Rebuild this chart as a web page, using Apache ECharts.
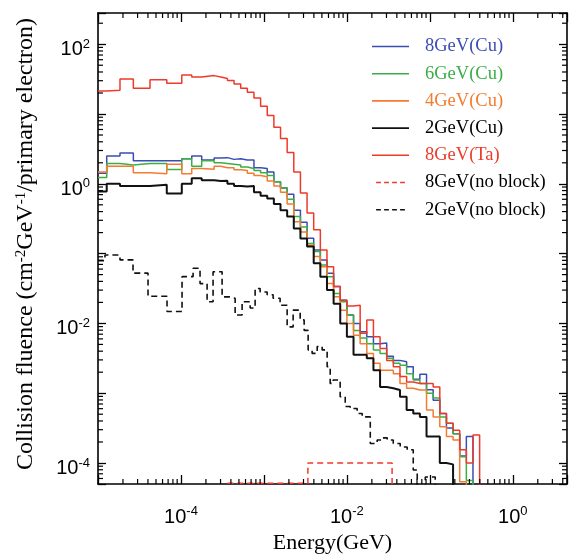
<!DOCTYPE html>
<html><head><meta charset="utf-8">
<script src="https://cdn.jsdelivr.net/npm/echarts@6/dist/echarts.min.js"></script>
<style>html,body{margin:0;padding:0;background:#fff}#chart{width:569px;height:554px}</style>
</head><body><div id="chart"></div>
<script>
// ---- Data ----
// Histogram bin edges, log10(Energy / GeV), for the shielded spectra
const blockEdgesLog10 = [-5.0, -4.895, -4.735, -4.574, -4.373, -4.171, -3.99, -3.87, -3.75,
  -3.60, -3.52, -3.44, -3.36, -3.28, -3.20, -3.12, -3.04, -2.96, -2.88, -2.80, -2.72, -2.64, -2.56,
  -2.48, -2.40, -2.32, -2.24, -2.16, -2.08, -2.00, -1.92, -1.84, -1.76, -1.68, -1.60, -1.52, -1.44,
  -1.36, -1.28, -1.20, -1.12, -1.04, -0.96, -0.88, -0.80, -0.72, -0.64, -0.56, -0.48, -0.40];
// log10(collision fluence) per bin (-6 = below the plotted range)
const cu8Log10 = [0.15, 0.40, 0.44, 0.33, 0.33, 0.33, 0.36, 0.40, 0.34,
  0.37, 0.375, 0.35, 0.36, 0.34, 0.34, 0.23, 0.22, 0.17, 0.03, -0.06, -0.15, -0.38, -0.55, -0.78,
  -0.95, -1.09, -1.28, -1.47, -1.67, -1.88, -2.0, -2.12, -2.19, -2.29, -2.28, -2.47, -2.53, -2.55,
  -2.62, -2.80, -2.73, -2.95, -3.10, -3.29, -3.50, -3.58, -3.90, -3.62, -6];
const cu6Log10 = [0.09, 0.29, 0.27, 0.29, 0.29, 0.205, 0.36, 0.25, 0.33,
  0.30, 0.29, 0.28, 0.27, 0.24, 0.22, 0.19, 0.16, 0.12, 0.03, -0.06, -0.22, -0.47, -0.62, -0.855,
  -0.97, -1.165, -1.33, -1.57, -1.69, -1.88, -2.1, -2.21, -2.29, -2.38, -2.43, -2.50, -2.57, -2.6,
  -2.72, -2.81, -2.86, -3.0, -3.07, -3.34, -3.43, -3.58, -3.91, -4.25, -6];
const cu4Log10 = [0.17, 0.25, 0.25, 0.16, 0.145, 0.28, 0.145, 0.22, 0.21,
  0.25, 0.23, 0.23, 0.20, 0.19, 0.15, 0.12, 0.10, 0.04, -0.03, -0.12, -0.29, -0.545, -0.69, -0.88,
  -1.04, -1.19, -1.43, -1.62, -1.81, -2.0, -2.17, -2.29, -2.43, -2.57, -2.67, -2.67, -2.72, -2.86,
  -2.93, -2.955, -2.955, -3.24, -3.34, -3.48, -3.62, -3.67, -4.27, -6, -6];
const cu2Log10 = [-0.11, 0.0, -0.03, -0.03, -0.015, -0.14, 0.0, 0.08, 0.05,
  0.04, 0.043, 0.0, -0.03, -0.04, -0.03, -0.12, -0.17, -0.21, -0.29, -0.38, -0.47, -0.64, -0.785, -0.9,
  -1.14, -1.33, -1.52, -1.72, -2.0, -2.19, -2.45, -2.45, -2.50, -2.67, -2.91, -2.93, -2.955, -3.05,
  -3.24, -3.29, -3.34, -3.62, -3.62, -4.0, -4.02, -6, -6, -6, -6];
const ta8Log10 = [1.33, 1.34, 1.50, 1.37, 1.49, 1.44, 1.56, 1.53, 1.55,
  1.53, 1.51, 1.48, 1.43, 1.37, 1.31, 1.23, 1.11, 0.98, 0.81, 0.65, 0.45, 0.17, -0.13, -0.42,
  -0.66, -0.95, -1.19, -1.47, -1.67, -1.75, -1.74, -2.14, -1.95, -2.19, -2.36, -2.53, -2.62, -2.76,
  -2.84, -2.86, -2.86, -2.86, -2.91, -3.29, -3.43, -3.53, -3.81, -4.00, -3.60];
// No-block spectra have their own binning
const nb8EdgesLog10 = [-3.44, -2.47, -1.455];
const nb8Log10 = [-4.29, -4.0];
const nb2EdgesLog10 = [-5.0, -4.916, -4.735, -4.578, -4.397, -4.168, -3.987, -3.854, -3.770, -3.685,
  -3.613, -3.504, -3.408, -3.347, -3.263, -3.166, -3.106, -3.046, -2.961, -2.889, -2.805, -2.720,
  -2.648, -2.563, -2.515, -2.467, -2.419, -2.358, -2.298, -2.238, -2.201, -2.165, -2.081, -2.020,
  -1.960, -1.876, -1.815, -1.718, -1.635, -1.574, -1.514, -1.441, -1.357, -1.273, -1.200, -1.152,
  -1.055, -0.935];
const nb2Log10 = [-1.10, -1.02, -1.09, -1.28, -1.61, -1.83, -1.33, -1.21, -1.43, -1.69, -1.26, -1.62,
  -1.64, -1.88, -1.69, -1.78, -1.50, -1.55, -1.59, -1.64, -1.74, -2.05, -1.81, -1.95, -2.10, -2.38,
  -2.43, -2.33, -2.38, -2.62, -2.86, -2.81, -3.05, -3.19, -3.22, -3.29, -3.34, -3.72, -3.67, -3.64,
  -3.67, -3.72, -3.77, -3.81, -4.1, -4.5, -4.2];

const seriesNames = ['8GeV(Cu)', '6GeV(Cu)', '4GeV(Cu)', '2GeV(Cu)', '8GeV(Ta)', '8GeV(no block)', '2GeV(no block)'];
const xMin = 1e-5, xMax = 4.5, yMin = 5e-5, yMax = 280;

// ---- Build step-histogram points ----
function histPoints(edges, vals) {
  const pts = vals.map((v, i) => [Math.pow(10, edges[i]), Math.pow(10, v)]);
  pts.push([Math.pow(10, edges[edges.length - 1]), 1e-8]);
  return pts;
}

const colors = {blue: '#3b4db3', green: '#3cae46', orange: '#f47b30', black: '#111111', red: '#ee3a2a'};

function lineSeries(name, data, color, width, dashed) {
  return {
    name, type: 'line', step: 'end', data, symbol: 'none', clip: true,
    xAxisIndex: 0, yAxisIndex: 0,
    lineStyle: {color, width, type: dashed ? [6, 4] : 'solid'},
    itemStyle: {color}, z: 3
  };
}

// minor tick positions (axis decoration)
const minorTicks = [];
for (let e = -5; e <= 0; e++) for (let k = 2; k <= 9; k++) { const v = k * Math.pow(10, e); if (v < xMax) minorTicks.push([v, 1, 0]); }
for (let e = -5; e <= 2; e++) for (let k = 2; k <= 9; k++) { const v = k * Math.pow(10, e); if (v > yMin && v < yMax) minorTicks.push([1, v, 1]); }

function supLabel(v) {
  const lg = Math.log10(v);
  const e = Math.round(lg);
  if (Math.abs(lg - e) > 1e-6 || e % 2 !== 0) return '';
  return '{b|10}{s|' + (e < 0 ? '-' + (-e) : e) + '}';
}
const labelRich = {
  b: {fontFamily: 'Liberation Sans', fontSize: 20, color: '#000', lineHeight: 20, verticalAlign: 'bottom'},
  s: {fontFamily: 'Liberation Sans', fontSize: 13, color: '#000', lineHeight: 13, verticalAlign: 'bottom', padding: [0, 0, 9, 0]}
};
const axisLineStyle = {show: true, lineStyle: {color: '#000', width: 1.6}};

function xAx(pos, showLabel) {
  return {
    type: 'log', logBase: 10, min: xMin, max: xMax, position: pos,
    axisLine: axisLineStyle,
    axisTick: {show: true, inside: true, length: 9, interval: 0, lineStyle: {color: '#000', width: 1.3}},
    axisLabel: {show: showLabel, interval: 0, margin: 23, formatter: supLabel, rich: labelRich},
    splitLine: {show: false},
    name: showLabel ? 'Energy(GeV)' : '', nameLocation: 'middle', nameGap: 47,
    nameTextStyle: {fontFamily: 'Liberation Serif', fontSize: 22, color: '#000'}
  };
}
function yAx(pos, showLabel) {
  return {
    type: 'log', logBase: 10, min: yMin, max: yMax, position: pos,
    axisLine: axisLineStyle,
    axisTick: {show: true, inside: true, length: 8, interval: 0, lineStyle: {color: '#000', width: 1.3}},
    axisLabel: {show: showLabel, interval: 0, margin: 8, formatter: supLabel, rich: labelRich, padding: [11, 0, 0, 0]},
    splitLine: {show: false},
    name: showLabel ? '{a|Collision fluence (cm}{s|-2}{a|GeV}{s|-1}{a|/primary electron)}' : '',
    nameLocation: 'middle', nameGap: 60, nameRotate: 90,
    nameTextStyle: {
      fontFamily: 'Liberation Serif', fontSize: 24, color: '#000', padding: [0, 0, 0, 9],
      rich: {
        a: {fontFamily: 'Liberation Serif', fontSize: 24, color: '#000', lineHeight: 24, verticalAlign: 'bottom'},
        s: {fontFamily: 'Liberation Serif', fontSize: 15, color: '#000', lineHeight: 15, verticalAlign: 'bottom', padding: [0, 0, 9, 0]}
      }
    }
  };
}

const dashIcon = 'path://M0,0h6v2h-6z M10,0h6v2h-6z M20,0h6v2h-6z M30,0h6v2h-6z';

const chart = echarts.init(document.getElementById('chart'), null, {renderer: 'canvas'});
chart.setOption({
  animation: false,
  backgroundColor: '#fff',
  grid: {left: 98, right: 2, top: 13, bottom: 70, containLabel: false, outerBoundsMode: 'none'},
  xAxis: [xAx('bottom', true), xAx('top', false)],
  yAxis: [yAx('left', true), yAx('right', false)],
  legend: {
    orient: 'vertical', left: 367, top: 32, itemWidth: 37, itemHeight: 1.6, itemGap: 8.2,
    textStyle: {fontFamily: 'Liberation Serif', fontSize: 18.5, padding: [0, 0, 0, 11]},
    data: [
      {name: seriesNames[0], icon: 'rect', textStyle: {color: colors.blue}},
      {name: seriesNames[1], icon: 'rect', textStyle: {color: colors.green}},
      {name: seriesNames[2], icon: 'rect', textStyle: {color: colors.orange}},
      {name: seriesNames[3], icon: 'rect', textStyle: {color: '#000'}},
      {name: seriesNames[4], icon: 'rect', textStyle: {color: colors.red}},
      {name: seriesNames[5], icon: dashIcon, textStyle: {color: '#000'}},
      {name: seriesNames[6], icon: dashIcon, textStyle: {color: '#000'}}
    ]
  },
  series: [
    lineSeries(seriesNames[0], histPoints(blockEdgesLog10, cu8Log10), colors.blue, 1.5, false),
    lineSeries(seriesNames[1], histPoints(blockEdgesLog10, cu6Log10), colors.green, 1.5, false),
    lineSeries(seriesNames[2], histPoints(blockEdgesLog10, cu4Log10), colors.orange, 1.5, false),
    lineSeries(seriesNames[3], histPoints(blockEdgesLog10, cu2Log10), colors.black, 2, false),
    lineSeries(seriesNames[4], histPoints(blockEdgesLog10, ta8Log10), colors.red, 1.5, false),
    lineSeries(seriesNames[5], histPoints(nb8EdgesLog10, nb8Log10), colors.red, 1.5, true),
    lineSeries(seriesNames[6], histPoints(nb2EdgesLog10, nb2Log10), colors.black, 1.6, true),
    {
      type: 'custom', silent: true, xAxisIndex: 0, yAxisIndex: 0, data: minorTicks, z: 4,
      renderItem(params, api) {
        const cs = params.coordSys;
        const st = {stroke: '#000', lineWidth: 1.2};
        if (api.value(2) === 0) {
          const x = api.coord([api.value(0), 1])[0];
          return {type: 'group', children: [
            {type: 'line', shape: {x1: x, y1: cs.y + cs.height, x2: x, y2: cs.y + cs.height - 5}, style: st},
            {type: 'line', shape: {x1: x, y1: cs.y, x2: x, y2: cs.y + 5}, style: st}
          ]};
        }
        const y = api.coord([1, api.value(1)])[1];
        return {type: 'group', children: [
          {type: 'line', shape: {x1: cs.x, y1: y, x2: cs.x + 5, y2: y}, style: st},
          {type: 'line', shape: {x1: cs.x + cs.width, y1: y, x2: cs.x + cs.width - 5, y2: y}, style: st}
        ]};
      }
    }
  ]
});
</script></body></html>
